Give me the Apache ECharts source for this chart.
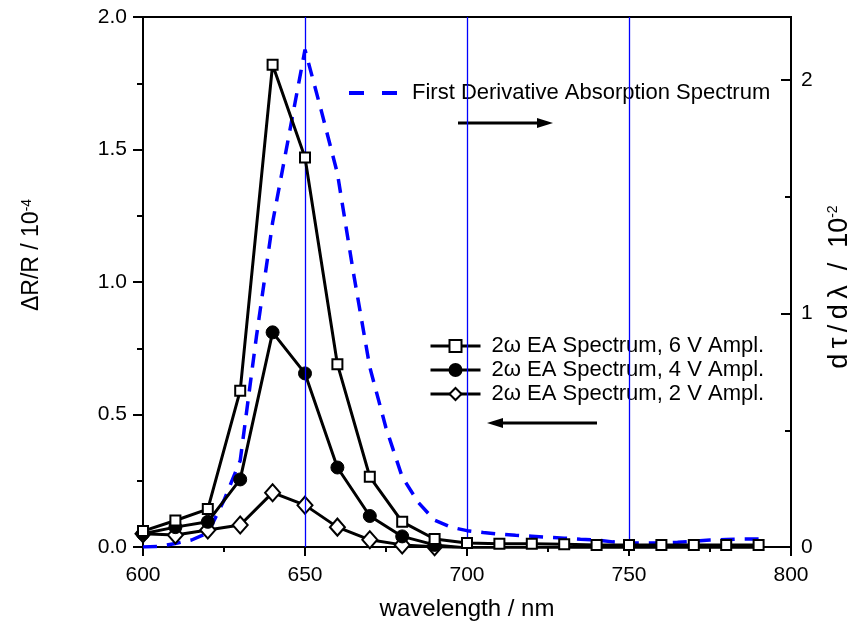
<!DOCTYPE html>
<html>
<head>
<meta charset="utf-8">
<script src="https://cdn.jsdelivr.net/npm/echarts@6/dist/echarts.min.js"></script>
<style>
  html, body { margin: 0; padding: 0; background: #fff; }
  #chart { width: 860px; height: 635px; }
</style>
</head>
<body>
<div id="chart"></div>
<script>
// wavelengths of the EA measurements (nm)
const wavelengths = [600, 610, 620, 630, 640, 650, 660, 670, 680, 690, 700, 710, 720, 730, 740, 750, 760, 770, 780, 790]
// dR/R (10^-4) for the three modulation amplitudes
const ea6V = [0.06, 0.10, 0.143, 0.59, 1.82, 1.47, 0.69, 0.265, 0.095, 0.03, 0.015, 0.012, 0.012, 0.01, 0.008, 0.008, 0.008, 0.008, 0.008, 0.008]
const ea4V = [0.05, 0.075, 0.095, 0.255, 0.81, 0.655, 0.30, 0.117, 0.04, 0.008, -0.004, -0.004, -0.004, -0.004, -0.004, -0.004, -0.004, -0.004, -0.004, -0.004]
const ea2V = [0.05, 0.045, 0.064, 0.083, 0.205, 0.158, 0.075, 0.027, 0.008, 0.001, -0.004, -0.004, -0.004, -0.004, -0.004, -0.004, -0.004, -0.004, -0.004, -0.004]

// first derivative absorption spectrum (10^-2), 5 nm steps
const absWavelengths = [600, 605, 610, 615, 620, 625, 630, 635, 640, 645, 650, 655, 660, 665, 670, 675, 680, 685, 690, 695, 700, 705, 710, 715, 720, 725, 730, 735, 740, 745, 750, 755, 760, 765, 770, 775, 780, 785, 790]
const absDeriv = [0.0, 0.003, 0.015, 0.03, 0.06, 0.2, 0.37, 0.9, 1.39, 1.76, 2.13, 1.87, 1.6, 1.17, 0.77, 0.51, 0.3, 0.19, 0.115, 0.085, 0.07, 0.062, 0.055, 0.05, 0.046, 0.042, 0.038, 0.033, 0.03, 0.022, 0.017, 0.017, 0.018, 0.02, 0.025, 0.03, 0.032, 0.034, 0.034]

// blue guide lines
const guideLines = [650, 700, 750]

const names = [
  'First Derivative Absorption Spectrum',
  '2ω EA Spectrum, 6 V Ampl.',
  '2ω EA Spectrum, 4 V Ampl.',
  '2ω EA Spectrum, 2 V Ampl.',
]

const pair = (xs, ys) => xs.map((x, i) => [x, ys[i]])

const FONT = 'Liberation Sans, Arial, sans-serif'

const chartInstance = echarts.init(document.getElementById('chart'), null, { renderer: 'canvas' })

const blackLine = { color: '#000', width: 3 }
const supStyle = { fontFamily: FONT, fontSize: 14, fill: '#000', verticalAlign: 'top', lineHeight: 14 }

let option = {
  animation: false,
  backgroundColor: '#fff',
  textStyle: { fontFamily: FONT },
  // grid border gives the top frame line
  grid: { left: 143, right: 69, top: 17, bottom: 88, show: true, borderColor: '#000', borderWidth: 2 },
  legend: [
    {
      data: [
        {
          name: names[0],
          itemStyle: { opacity: 0 },
          lineStyle: { color: '#0000ff', width: 4, type: [15, 18] },
        },
      ],
      left: 347,
      top: 82,
      padding: 0,
      itemWidth: 48,
      itemHeight: 14,
      selectedMode: false,
      textStyle: { fontFamily: FONT, fontSize: 22, color: '#000', padding: [0, 0, 0, 10] },
    },
    {
      data: names.slice(1),
      orient: 'vertical',
      left: 429,
      top: 335,
      padding: 0,
      itemWidth: 50,
      itemHeight: 15,
      itemGap: 2,
      selectedMode: false,
      lineStyle: { width: 3 },
      textStyle: { fontFamily: FONT, fontSize: 22, color: '#000', padding: [0, 0, 0, 6] },
    },
  ],
  xAxis: {
    type: 'value',
    min: 600,
    max: 800,
    interval: 50,
    name: 'wavelength / nm',
    nameLocation: 'middle',
    nameGap: 50,
    nameTextStyle: { fontFamily: FONT, fontSize: 24, color: '#000' },
    axisLine: { lineStyle: { color: '#000', width: 2 } },
    axisTick: { length: 9, lineStyle: { color: '#000', width: 2 } },
    minorTick: { show: true, splitNumber: 2, length: 5, lineStyle: { color: '#000', width: 2 } },
    axisLabel: { fontFamily: FONT, fontSize: 21, color: '#000', margin: 18 },
    splitLine: { show: false },
    minorSplitLine: { show: false },
  },
  yAxis: [
    {
      type: 'value',
      min: 0,
      max: 2,
      interval: 0.5,
      axisLine: { show: true, lineStyle: { color: '#000', width: 2 } },
      axisTick: { length: 10, lineStyle: { color: '#000', width: 2 } },
      minorTick: { show: true, splitNumber: 2, length: 6, lineStyle: { color: '#000', width: 2 } },
      axisLabel: {
        fontFamily: FONT,
        fontSize: 21,
        color: '#000',
        margin: 16,
        formatter: (v) => v.toFixed(1),
      },
      splitLine: { show: false },
    },
    {
      type: 'value',
      position: 'right',
      min: 0,
      max: 2.27,
      interval: 1,
      axisLine: { show: true, lineStyle: { color: '#000', width: 2 } },
      axisTick: { inside: true, length: 10, lineStyle: { color: '#000', width: 2 } },
      minorTick: { show: true, splitNumber: 2, length: 6, lineStyle: { color: '#000', width: 2 } },
      axisLabel: { fontFamily: FONT, fontSize: 21, color: '#000', margin: 10, showMaxLabel: false },
      splitLine: { show: false },
    },
  ],
  series: [
    {
      name: names[0],
      type: 'line',
      yAxisIndex: 1,
      data: pair(absWavelengths, absDeriv),
      symbol: 'none',
      lineStyle: { color: '#0000ff', width: 3.5, type: [14, 10] },
      itemStyle: { color: '#0000ff' },
      silent: true,
      z: 2,
      markLine: {
        silent: true,
        symbol: 'none',
        label: { show: false },
        lineStyle: { color: '#0000ff', width: 1.3, type: 'solid', opacity: 1 },
        emphasis: { disabled: true },
        data: guideLines.map((v) => ({ xAxis: v })),
      },
    },
    {
      name: names[3],
      type: 'line',
      data: pair(wavelengths, ea2V),
      symbol: 'diamond',
      symbolSize: [15, 17],
      showAllSymbol: true,
      lineStyle: blackLine,
      itemStyle: { color: '#fff', borderColor: '#000', borderWidth: 2 },
      silent: true,
      z: 3,
    },
    {
      name: names[2],
      type: 'line',
      data: pair(wavelengths, ea4V),
      symbol: 'circle',
      symbolSize: 13,
      showAllSymbol: true,
      lineStyle: blackLine,
      itemStyle: { color: '#000', borderColor: '#000', borderWidth: 1 },
      silent: true,
      z: 4,
    },
    {
      name: names[1],
      type: 'line',
      data: pair(wavelengths, ea6V),
      symbol: 'rect',
      symbolSize: 10,
      showAllSymbol: true,
      lineStyle: blackLine,
      itemStyle: { color: '#fff', borderColor: '#000', borderWidth: 2 },
      silent: true,
      z: 5,
    },
  ],
  graphic: [
    // axis titles
    {
      type: 'text',
      x: 32,
      y: 255,
      rotation: Math.PI / 2,
      style: {
        text: 'ΔR/R / 10{sup|-4}',
        fontFamily: FONT,
        fontSize: 23,
        fill: '#000',
        align: 'center',
        verticalAlign: 'middle',
        rich: { sup: supStyle },
      },
    },
    {
      type: 'text',
      x: 840,
      y: 287,
      rotation: Math.PI / 2,
      style: {
        text: 'd\u2009τ\u2009/\u2009d\u2009λ  /  10{sup|-2}',
        fontFamily: FONT,
        fontSize: 27,
        fill: '#000',
        align: 'center',
        verticalAlign: 'middle',
        rich: { sup: supStyle },
      },
    },
    // arrows pointing at the axis each legend group belongs to
    { type: 'line', shape: { x1: 458, y1: 123, x2: 540, y2: 123 }, style: { stroke: '#000', lineWidth: 3 } },
    { type: 'polygon', shape: { points: [[537, 118], [553, 123], [537, 128]] }, style: { fill: '#000' } },
    { type: 'line', shape: { x1: 500, y1: 423, x2: 597, y2: 423 }, style: { stroke: '#000', lineWidth: 3 } },
    { type: 'polygon', shape: { points: [[503, 418], [487, 423], [503, 428]] }, style: { fill: '#000' } },
  ],
}

chartInstance.setOption(option)
</script>
</body>
</html>
